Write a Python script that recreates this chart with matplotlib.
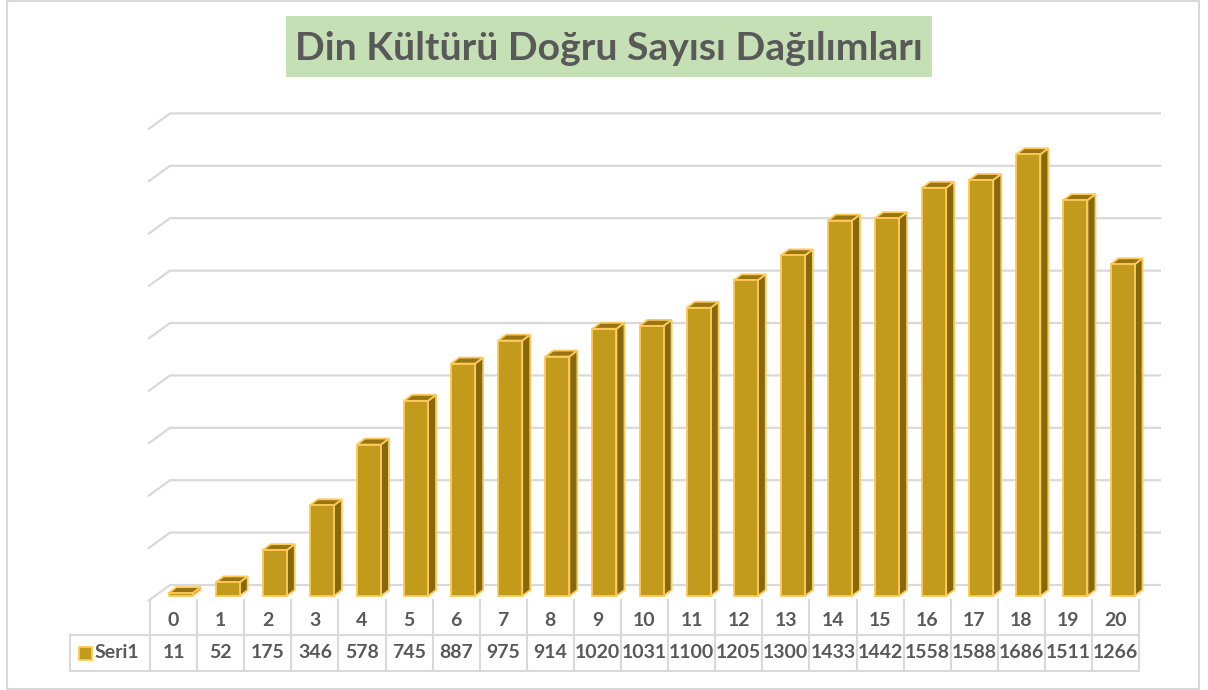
"""Din Kültürü doğru sayısı dağılımı: Excel tarzı 3B sütun grafiği + veri tablosu."""

import matplotlib

matplotlib.use("Agg")

import matplotlib.pyplot as plt  # noqa: E402
from matplotlib.patches import Polygon, Rectangle  # noqa: E402

plt.rcParams["font.family"] = ["Lato", "DejaVu Sans"]

# --- veri ---
categories = [str(i) for i in range(21)]
values = [11, 52, 175, 346, 578, 745, 887, 975, 914, 1020, 1031,
          1100, 1205, 1300, 1433, 1442, 1558, 1588, 1686, 1511, 1266]
series_name = "Seri1"
grid_values = list(range(0, 1801, 200))
title = "Din Kültürü Doğru Sayısı Dağılımları"

# --- stil ---
_FRONT = "#c39b1c"
_SIDE = "#86680f"
_TOP = "#977512"
_EDGE = "#ffc95c"
_GRID = "#d9d9d9"
_TEXT = "#595959"
_TITLE_BG = "#c5e0b4"

W, H = 1208, 690
PX_CAT = 47.1          # bir kategori kaç piksel
PX_VAL = 0.262         # bir birim kaç piksel
X0_PX = 180.55         # 0. sütunun ön yüz merkezi
Y0_PX = 596            # sıfır çizgisi (yukarıdan)
TABLE_FS = 14


def xpx(px):
    return (px - X0_PX) / PX_CAT


def ypx(py):
    return (Y0_PX - py) / PX_VAL


fig = plt.figure(figsize=(W / 100, H / 100), dpi=100)
ax = fig.add_axes([0, 0, 1, 1])
ax.set_xlim(xpx(0), xpx(W))
ax.set_ylim(ypx(H), ypx(0))
ax.axis("off")

# dış çerçeve
ax.add_patch(Rectangle((xpx(7), ypx(689)), xpx(1199) - xpx(7), ypx(1) - ypx(689),
                       fill=False, edgecolor=_GRID, linewidth=1.5, zorder=1))

# arka duvar ızgara çizgileri (derinlik ofsetli)
back_dy = 11 / PX_VAL
front_dy = -5 / PX_VAL
for g in grid_values:
    ax.plot([xpx(148), xpx(170), xpx(1161)],
            [g + front_dy, g + back_dy, g + back_dy],
            color=_GRID, linewidth=1.6, solid_capstyle="butt", zorder=2)

# 3B sütunlar
bar_w = 24 / PX_CAT
dep_x, dep_y = 8 / PX_CAT, 6 / PX_VAL
xs = list(range(len(values)))
ax.bar(xs, values, width=bar_w, color=_FRONT, edgecolor=_EDGE, linewidth=1.3, zorder=4)
for x, v in zip(xs, values):
    l, r = x - bar_w / 2, x + bar_w / 2
    side = [(r, 0), (r + dep_x, dep_y), (r + dep_x, v + dep_y), (r, v)]
    top = [(l, v), (r, v), (r + dep_x, v + dep_y), (l + dep_x, v + dep_y)]
    ax.add_patch(Polygon(side, closed=True, facecolor=_SIDE, edgecolor=_EDGE,
                         linewidth=1.3, zorder=3))
    ax.add_patch(Polygon(top, closed=True, facecolor=_TOP, edgecolor=_EDGE,
                         linewidth=1.3, zorder=3))

# veri tablosu
col_left = [150 + PX_CAT * k for k in range(len(values) + 1)]
table_top, row_sep, table_bottom = 600, 635, 671
for px in col_left:
    ax.plot([xpx(px), xpx(px)], [ypx(table_top), ypx(table_bottom)],
            color=_GRID, linewidth=1.5, zorder=2)
ax.plot([xpx(70), xpx(70)], [ypx(row_sep), ypx(table_bottom)], color=_GRID, linewidth=1.5)
for py in (row_sep, table_bottom):
    ax.plot([xpx(70), xpx(col_left[-1])], [ypx(py), ypx(py)], color=_GRID, linewidth=1.5)

for k, (cat, v) in enumerate(zip(categories, values)):
    cx = xpx(col_left[k] + PX_CAT / 2)
    ax.text(cx, ypx(620), cat, ha="center", va="center", fontsize=TABLE_FS,
            fontweight="bold", color=_TEXT)
    ax.text(cx, ypx(653), str(v), ha="center", va="center", fontsize=TABLE_FS,
            fontweight="bold", color=_TEXT)

ax.add_patch(Rectangle((xpx(79), ypx(660)), xpx(92) - xpx(79), ypx(647) - ypx(660),
                       facecolor=_FRONT, edgecolor=_EDGE, linewidth=1.3))
ax.text(xpx(95), ypx(653), series_name, ha="left", va="center", fontsize=TABLE_FS,
        fontweight="bold", color=_TEXT)

# başlık kutusu
ax.add_patch(Rectangle((xpx(286), ypx(77)), xpx(932) - xpx(286), ypx(16) - ypx(77),
                       facecolor=_TITLE_BG, edgecolor="none", zorder=1))
t = ax.text(xpx(609), ypx(48), title, ha="center", va="center", fontsize=28,
            fontweight="bold", color=_TEXT)
renderer = fig.canvas.get_renderer()
width = t.get_window_extent(renderer).width
t.set_fontsize(28 * 627 / width)

fig.savefig("out.png", dpi=100)
plt.close(fig)
